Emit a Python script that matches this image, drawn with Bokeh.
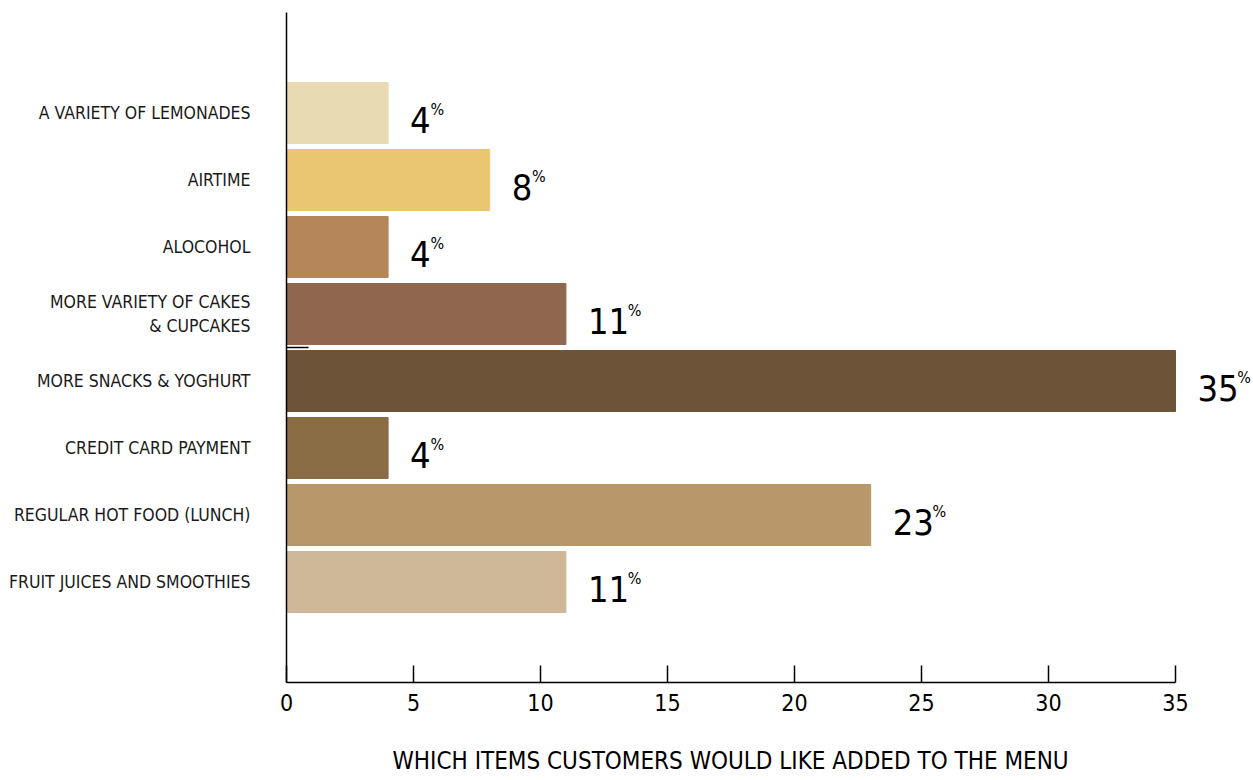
from bokeh.plotting import figure
from bokeh.models import FixedTicker, ColumnDataSource, Title, LinearAxis
from bokeh.core.properties import value
from bokeh.embed import file_html
from bokeh.resources import INLINE

categories = ["A VARIETY OF LEMONADES", "AIRTIME", "ALOCOHOL",
              "MORE VARIETY OF CAKES\n& CUPCAKES", "MORE SNACKS & YOGHURT",
              "CREDIT CARD PAYMENT", "REGULAR HOT FOOD (LUNCH)",
              "FRUIT JUICES AND SMOOTHIES"]
values = [4, 8, 4, 11, 35, 4, 23, 11]
colors = ["#E8DAB2", "#EAC672", "#B5865A", "#8F674F", "#6D5438",
          "#8A6C45", "#B8976A", "#CFB898"]
x_ticks = [0, 5, 10, 15, 20, 25, 30, 35]
title = "WHICH ITEMS CUSTOMERS WOULD LIKE ADDED TO THE MENU"

FONT = "'DejaVu Sans Condensed', sans-serif"

n = len(categories)
ypos = [n - i + 0.5 for i in range(n)]
nums = [str(v) for v in values]
digit_w = 19.4
src = ColumnDataSource(dict(
    y=ypos, v=values, color=colors, num=nums, pct=["%"] * n,
    pct_off=[22 + digit_w * len(s) + 1 for s in nums],
))

p = figure(width=1253, height=780, x_range=(0, 38.07), y_range=(0, 10),
           output_backend="svg", toolbar_location=None,
           min_border_left=286, min_border_right=0, min_border_top=12,
           min_border_bottom=98)
p.outline_line_color = None
p.xgrid.grid_line_color = None
p.ygrid.grid_line_color = None
p.background_fill_color = "white"
p.border_fill_color = "white"

p.hbar(y="y", left=0, right="v", height=0.91, color="color", source=src)

p.text(x="v", y="y", text="num", x_offset=22, y_offset=7,
       text_baseline="alphabetic", text_align="left",
       text_font=value(FONT), text_font_size="36px", text_color="#000000",
       source=src)
p.text(x="v", y="y", text="pct", x_offset="pct_off", y_offset=-4,
       text_baseline="alphabetic", text_align="left",
       text_font=value(FONT), text_font_size="16px", text_color="#000000",
       source=src)

xa = p.xaxis[0]
xa.ticker = FixedTicker(ticks=x_ticks)
xa.bounds = (0, 35)
xa.major_tick_in = 17
xa.major_tick_out = 0
xa.minor_tick_line_color = None
xa.axis_line_color = "black"
xa.axis_line_width = 1.5
xa.major_tick_line_color = "black"
xa.major_tick_line_width = 1.5
xa.major_label_text_font = FONT
xa.major_label_text_font_size = "23px"
xa.major_label_text_color = "black"
xa.major_label_standoff = 11

# invisible spacer between the tick labels and the bottom title
spacer = LinearAxis(ticker=FixedTicker(ticks=[0]), axis_line_color=None,
                    major_tick_out=25, major_tick_in=0,
                    major_tick_line_color="white", minor_tick_line_color=None,
                    major_label_standoff=0, major_label_text_font_size="0px",
                    major_label_overrides={0: ""})
p.add_layout(spacer, "below")

ttl = Title(text=title, align="left", offset=106, standoff=12,
            text_font=FONT, text_font_size="24px", text_font_style="normal",
            text_color="black")
p.add_layout(ttl, "below")

ya = p.yaxis[0]
ya.ticker = FixedTicker(ticks=ypos, minor_ticks=[5])
ya.major_label_overrides = {y: c for y, c in zip(ypos, categories)}
ya.major_tick_in = 0
ya.major_tick_out = 0
ya.minor_tick_in = 22
ya.minor_tick_out = 0
ya.minor_tick_line_color = "black"
ya.minor_tick_line_width = 1.5
ya.axis_line_color = "black"
ya.axis_line_width = 1.5
ya.major_label_text_font = FONT
ya.major_label_text_font_size = "17.5px"
ya.major_label_text_color = "#1a1a1a"
ya.major_label_standoff = 36

open("out.html", "w").write(file_html(p, INLINE))
